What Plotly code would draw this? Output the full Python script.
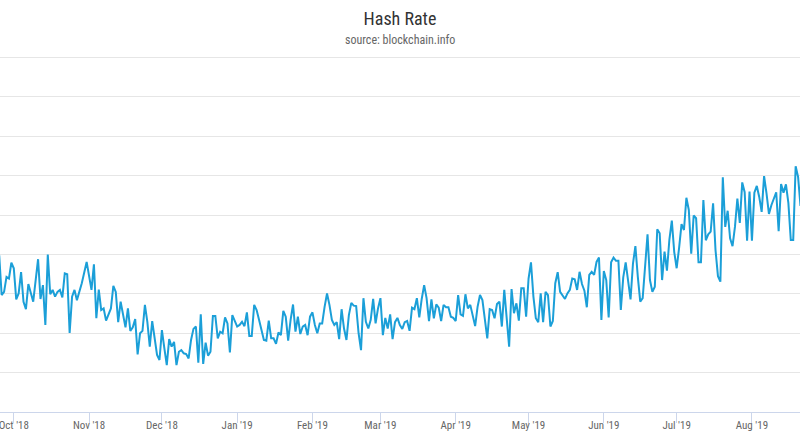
import pandas as pd
import plotly.graph_objects as go

# Days counted from 1 Oct 2018 (vertices)
base_date = "2018-10-01"
day_offsets = [
    -6, -5, -4, -3, -2, -1, 0, 1, 2, 3, 4, 5, 6, 8, 10, 11, 12, 13, 14, 15,
    16, 17, 18, 19, 20, 21, 22, 23, 24, 25, 26, 28, 30, 32, 33, 34, 35, 36, 37, 38,
    40, 41, 42, 43, 44, 46, 47, 48, 49, 50, 51, 52, 53, 54, 55, 56, 57, 59, 60, 61,
    62, 63, 64, 65, 66, 67, 68, 69, 70, 71, 72, 73, 74, 75, 76, 77, 78, 79, 80, 81,
    82, 83, 84, 85, 86, 87, 88, 89, 90, 91, 92, 93, 94, 95, 96, 97, 98, 99, 100, 101,
    102, 103, 104, 105, 106, 107, 108, 109, 110, 111, 112, 113, 114, 115, 116, 117, 118, 119, 120, 121,
    122, 123, 124, 125, 126, 127, 128, 129, 130, 131, 132, 133, 134, 135, 136, 137, 138, 139, 140, 141,
    142, 143, 144, 145, 146, 147, 148, 149, 150, 151, 152, 153, 154, 155, 156, 157, 158, 159, 160, 161,
    162, 163, 164, 165, 166, 167, 168, 169, 170, 171, 172, 173, 174, 175, 176, 177, 178, 179, 180, 181,
    182, 183, 184, 185, 186, 187, 188, 189, 190, 191, 192, 193, 194, 195, 196, 197, 198, 199, 200, 201,
    202, 203, 204, 205, 206, 207, 208, 209, 210, 211, 212, 213, 214, 215, 216, 217, 218, 219, 220, 221,
    222, 223, 224, 225, 226, 227, 228, 229, 230, 231, 232, 233, 234, 235, 236, 237, 238, 239, 240, 241,
    242, 243, 244, 245, 246, 247, 248, 249, 250, 251, 252, 253, 254, 255, 256, 257, 258, 259, 260, 261,
    262, 263, 264, 265, 266, 267, 268, 269, 270, 271, 272, 273, 274, 275, 276, 277, 278, 279, 280, 281,
    282, 283, 284, 285, 286, 287, 288, 289, 290, 291, 292, 293, 294, 295, 296, 297, 298, 299, 300, 301,
    302, 303, 304, 305, 306, 307, 308, 309, 310, 311, 312, 313, 314, 315, 316, 317, 318, 319, 320, 321,
    322, 323, 324,
]
# Hash rate (EH/s, estimated)
hash_rate = [
    59.8, 49.7, 50.5, 54.3, 53.9, 57.9, 56.5, 48.6, 50.1, 55.5, 48.0, 46.1, 52.5, 48.0, 58.8, 48.7, 52.2, 42.1, 60.0, 49.9,
    51.0, 49.3, 50.5, 51.0, 49.1, 55.2, 55.0, 40.1, 49.3, 51.0, 48.4, 52.7, 58.1, 51.0, 57.5, 43.8, 51.1, 45.9, 46.3, 43.2,
    46.3, 52.0, 50.5, 42.8, 48.0, 41.5, 46.3, 40.6, 41.5, 43.6, 34.6, 40.0, 40.6, 47.2, 42.9, 36.6, 43.1, 34.5, 33.2, 40.8,
    36.2, 31.9, 38.5, 36.6, 37.8, 31.9, 35.3, 35.7, 34.9, 34.7, 33.6, 38.3, 41.1, 41.7, 32.5, 44.8, 32.2, 37.6, 34.3, 35.3,
    44.4, 44.4, 38.7, 40.4, 40.0, 44.0, 42.5, 35.1, 44.6, 43.2, 41.7, 42.1, 42.9, 41.8, 45.3, 39.3, 39.3, 47.2, 45.9, 43.4,
    40.8, 38.3, 38.1, 43.2, 38.7, 38.7, 37.3, 40.2, 39.5, 45.7, 44.2, 38.1, 43.4, 47.3, 40.4, 44.2, 39.8, 41.7, 42.1, 39.5,
    44.2, 45.3, 42.1, 40.0, 42.5, 42.5, 46.7, 50.1, 47.2, 43.4, 42.1, 42.8, 38.5, 46.1, 41.2, 38.3, 44.6, 47.7, 47.0, 46.9,
    40.0, 35.7, 48.9, 42.9, 41.2, 43.4, 48.7, 42.5, 46.3, 48.9, 39.5, 43.9, 41.2, 44.8, 38.5, 42.8, 43.9, 42.1, 41.1, 42.8,
    43.1, 40.6, 46.5, 46.1, 48.9, 44.0, 48.7, 52.2, 48.9, 43.1, 48.6, 43.8, 47.3, 46.5, 43.1, 47.2, 46.6, 46.6, 44.2, 43.9,
    43.1, 49.7, 44.8, 44.4, 49.9, 46.3, 47.2, 44.6, 41.8, 46.7, 49.7, 48.4, 44.2, 38.7, 46.1, 45.9, 43.8, 47.4, 48.0, 41.7,
    51.0, 43.4, 36.6, 51.2, 45.1, 47.6, 43.2, 51.4, 51.4, 44.2, 53.9, 58.0, 49.3, 43.8, 42.8, 50.1, 42.8, 50.5, 49.7, 41.7,
    43.1, 52.7, 55.5, 50.5, 49.7, 48.7, 50.1, 51.0, 53.9, 53.7, 51.0, 55.6, 52.5, 50.8, 46.6, 54.8, 55.6, 54.8, 58.1, 59.2,
    43.4, 55.8, 53.5, 44.0, 58.0, 59.2, 58.4, 58.4, 45.9, 54.2, 58.0, 53.5, 48.6, 57.7, 62.1, 54.3, 48.0, 48.9, 57.8, 65.1,
    53.5, 50.5, 51.8, 66.4, 65.4, 53.5, 60.7, 55.9, 63.8, 68.6, 60.6, 56.5, 61.7, 67.7, 66.2, 74.4, 71.3, 60.2, 69.9, 69.2,
    58.0, 58.0, 73.8, 63.6, 65.1, 65.8, 73.0, 61.1, 54.5, 53.1, 79.6, 67.0, 71.1, 64.1, 62.1, 67.0, 74.2, 68.0, 78.3, 75.8,
    63.5, 76.0, 63.5, 75.7, 77.4, 74.6, 70.8, 79.9, 75.5, 70.3, 72.5, 74.4, 75.8, 65.9, 77.9, 75.7, 77.8, 73.1, 63.7, 63.7,
    82.4, 79.7, 72.3,
]
x_range = ["2018-09-25 07:40", "2019-08-20 19:00"]
y_range = [20, 110.9]
title_text = "Hash Rate"
subtitle_text = "source: blockchain.info"

dates = pd.to_datetime(base_date) + pd.to_timedelta(day_offsets, unit="D")

font_family = "Liberation Sans Narrow, Roboto Condensed, Roboto, Open Sans, sans-serif"

fig = go.Figure(
    go.Scatter(
        x=dates,
        y=hash_rate,
        mode="lines",
        line=dict(color="#1b9fd8", width=2),
        hoverinfo="x+y",
        showlegend=False,
    )
)

fig.update_layout(
    width=800,
    height=445,
    margin=dict(l=0, r=0, t=53.5, b=33),
    paper_bgcolor="white",
    plot_bgcolor="white",
    font=dict(family=font_family, color="#666666"),
    title=dict(
        text=title_text,
        x=0.5,
        xanchor="center",
        xref="paper",
        y=1 - 19 / 445,
        yref="container",
        yanchor="middle",
        font=dict(size=18, color="#333333", family=font_family),
    ),
    annotations=[
        dict(
            text=subtitle_text,
            x=0.5,
            xref="paper",
            y=1 + (53.5 - 39) / 358.5,
            yref="paper",
            xanchor="center",
            yanchor="middle",
            showarrow=False,
            font=dict(size=12, color="#666666", family=font_family),
        )
    ],
)

fig.update_xaxes(
    type="date",
    range=x_range,
    dtick="M1",
    tick0="2018-10-01",
    tickformat="%b '%y",
    ticks="outside",
    ticklen=10,
    tickcolor="#ccd6eb",
    tickwidth=1,
    ticklabelstandoff=-7,
    ticklabeloverflow="allow",
    showline=True,
    linecolor="#ccd6eb",
    linewidth=1,
    showgrid=False,
    zeroline=False,
    tickfont=dict(size=11, color="#666666"),
)

fig.update_yaxes(
    range=y_range,
    dtick=10,
    showticklabels=False,
    showgrid=True,
    gridcolor="#e6e6e6",
    gridwidth=1,
    zeroline=False,
    showline=False,
)

fig.write_html(
    "out.html",
    config={"displayModeBar": False},
    post_script="document.body.style.margin='0px';document.body.style.padding='0px';",
)
